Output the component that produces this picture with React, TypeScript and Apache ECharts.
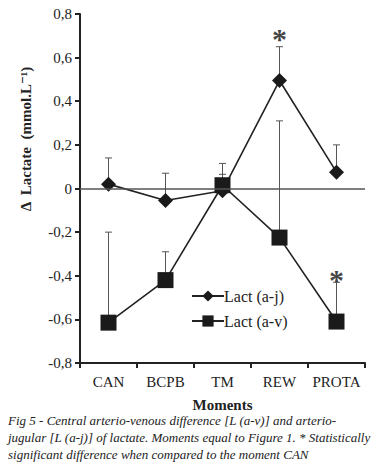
import React, { useEffect, useRef } from "react";
import * as echarts from "echarts";

const categories = ["CAN", "BCPB", "TM", "REW", "PROTA"];
const lactAJ = [0.02, -0.055, -0.01, 0.495, 0.075];
const lactAJTop = [0.14, 0.07, 0.115, 0.65, 0.2];
const lactAV = [-0.615, -0.42, 0.015, -0.225, -0.61];
const lactAVTop = [-0.2, -0.29, 0.065, 0.31, -0.43];
const starPoints: [number, number][] = [[3, 0.72], [4, -0.385]];
const yTicks = { min: -0.8, max: 0.8, interval: 0.2 };
const yTitle = "Δ  Lactate  (mmol.L⁻¹)";
const captionLines = [
  "Fig 5 - Central arterio-venous difference [L (a-v)] and arterio-",
  "jugular [L (a-j)] of lactate. Moments equal to Figure 1. * Statistically",
  "significant difference when compared to the moment CAN",
];

const SERIF = "'Liberation Serif', 'DejaVu Serif', serif";

function errorSeries(values: number[], tops: number[]) {
  return {
    type: "custom",
    z: 1,
    silent: true,
    renderItem: (params: any, api: any) => {
      const x = api.value(0);
      const p0 = api.coord([x, api.value(1)]);
      const p1 = api.coord([x, api.value(2)]);
      const style = { stroke: "#555", lineWidth: 1 };
      return {
        type: "group",
        children: [
          { type: "line", shape: { x1: p0[0], y1: p0[1], x2: p1[0], y2: p1[1] }, style },
          { type: "line", shape: { x1: p1[0] - 3.5, y1: p1[1], x2: p1[0] + 3.5, y2: p1[1] }, style },
        ],
      };
    },
    data: values.map((v, i) => [i, v, tops[i]]),
  };
}

export default function App() {
  const ref = useRef<HTMLDivElement>(null);
  useEffect(() => {
    document.body.style.margin = "0";
    const chart = echarts.init(ref.current!, null, { renderer: "svg" });
    chart.setOption({
      animation: false,
      backgroundColor: "#fff",
      grid: { left: 80, right: 15, top: 14, bottom: 111 },
      legend: {
        orient: "vertical",
        left: 186,
        top: 283,
        itemWidth: 32,
        itemHeight: 14,
        itemGap: 9,
        data: ["Lact (a-j)", "Lact (a-v)"],
        textStyle: { fontFamily: SERIF, fontSize: 16, color: "#222", padding: [0, 0, 0, -5] },
      },
      xAxis: {
        type: "category",
        data: categories,
        boundaryGap: true,
        name: "Moments",
        nameLocation: "middle",
        nameGap: 34,
        nameTextStyle: { fontFamily: SERIF, fontSize: 15, fontWeight: "bold", color: "#222" },
        axisLine: { onZero: false, lineStyle: { color: "#222", width: 2 } },
        axisTick: { show: true, length: 5, inside: false, lineStyle: { color: "#222", width: 2 } },
        axisLabel: { interval: 0, fontFamily: SERIF, fontSize: 15, color: "#222", margin: 11 },
      },
      yAxis: {
        type: "value",
        min: yTicks.min,
        max: yTicks.max,
        interval: yTicks.interval,
        splitLine: { show: false },
        axisLine: { show: true, lineStyle: { color: "#222", width: 2 } },
        axisTick: { show: true, length: 5, lineStyle: { color: "#222", width: 2 } },
        axisLabel: {
          fontFamily: SERIF,
          fontSize: 15,
          color: "#222",
          margin: 8,
          formatter: (v: number) => (Math.abs(v) < 1e-9 ? "0" : v.toFixed(1).replace(".", ",")),
        },
      },
      series: [
        errorSeries(lactAJ, lactAJTop),
        errorSeries(lactAV, lactAVTop),
        {
          name: "Lact (a-j)",
          type: "line",
          z: 3,
          data: lactAJ,
          symbol: "diamond",
          symbolSize: 15,
          itemStyle: { color: "#1a1a1a" },
          lineStyle: { color: "#222", width: 1.6 },
          markLine: {
            silent: true,
            symbol: "none",
            label: { show: false },
            lineStyle: { color: "#555", width: 1.5, type: "solid" },
            data: [{ yAxis: 0 }],
          },
        },
        {
          name: "Lact (a-v)",
          type: "line",
          z: 4,
          data: lactAV,
          symbol: "rect",
          symbolSize: 16,
          itemStyle: { color: "#1a1a1a" },
          lineStyle: { color: "#222", width: 1.6 },
        },
        {
          type: "scatter",
          z: 5,
          silent: true,
          symbolSize: 1,
          itemStyle: { color: "transparent" },
          data: starPoints,
          label: {
            show: true,
            position: "inside",
            formatter: "*",
            fontFamily: SERIF,
            fontSize: 30,
            fontWeight: "bold",
            color: "#111",
            offset: [0, 7],
          },
        },
      ],
      graphic: [
        {
          type: "text",
          x: 26,
          y: 139,
          rotation: Math.PI / 2,
          style: {
            text: yTitle,
            font: `bold 15px ${SERIF}`,
            fill: "#222",
            align: "center",
            verticalAlign: "middle",
          },
        },
        ...captionLines.map((t, i) => ({
          type: "text",
          left: 8,
          top: 414 + i * 17,
          style: {
            text: t,
            font: `italic 13px ${SERIF}`,
            fill: "#222",
          },
        })),
      ],
    });
    return () => chart.dispose();
  }, []);
  return <div ref={ref} style={{ width: 380, height: 474 }} />;
}
